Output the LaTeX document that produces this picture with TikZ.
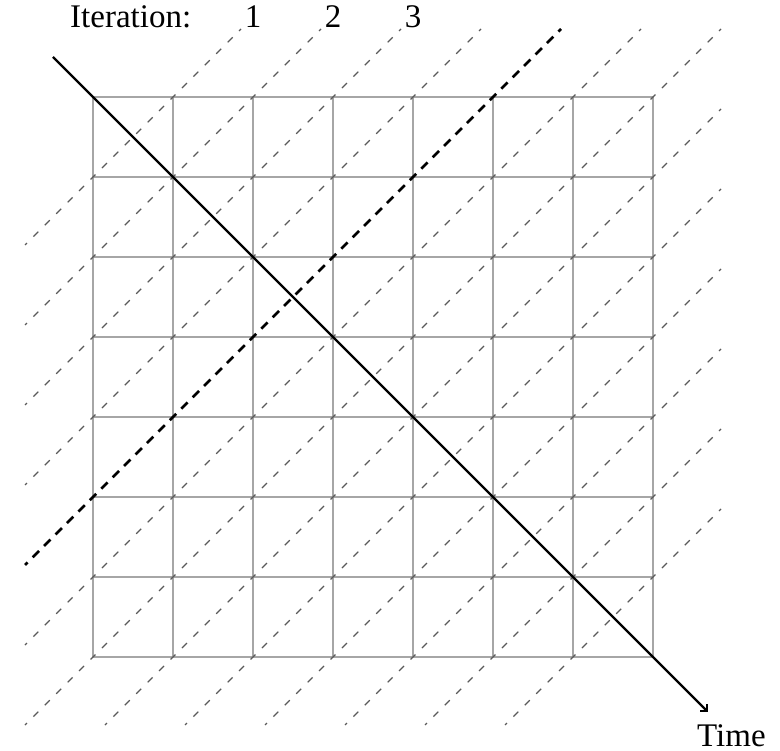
\documentclass[tikz,border=0pt]{standalone}
\usepackage{fontspec}
\setmainfont{Liberation Serif}
\usetikzlibrary{arrows.meta}
\begin{document}
\begin{tikzpicture}[x=80pt,y=-80pt,
  gridline/.style={draw=black!35, line width=1.3pt},
  itline/.style={draw=black!65, line width=1.1pt, dash pattern=on 7pt off 9.1624pt, dash phase=4.3pt},
  boldline/.style={draw=black, line width=2.6pt, dash pattern=on 9pt off 7.1624pt, dash phase=5.3pt},
  timeline/.style={draw=black, line width=2.2pt, -{Straight Barb[length=5pt,width=10pt]}},
  lbl/.style={font=\fontsize{33}{40}\selectfont, inner sep=0pt}]
\useasboundingbox (-1.1625,-1.2125) rectangle (8.5875,8.175);
% grid
\foreach \i in {0,...,7} {
  \draw[gridline] (\i,0) -- (\i,7);
  \draw[gridline] (0,\i) -- (7,\i);
}
% iteration lines
\foreach \k in {1,...,13} {
  \pgfmathsetmacro{\su}{max(-0.85,\k-7.85)}
  \pgfmathsetmacro{\sv}{\k-\su}
  \pgfmathsetmacro{\ev}{max(-0.85,\k-7.85)}
  \pgfmathsetmacro{\eu}{\k-\ev}
  \coordinate (s\k) at (\su,\sv);
  \coordinate (e\k) at (\eu,\ev);
  \ifnum\k=5 \else \draw[itline] (s\k) -- (e\k); \fi
}
\draw[boldline] (s5) -- (e5);
% time arrow
\coordinate (tstart) at (-0.5,-0.5);
\coordinate (tend) at (7.69,7.69);
\draw[timeline] (tstart) -- (tend);
% labels
\node[lbl, anchor=base west] (iter) at (-0.2875,-0.8625) {Iteration:};
\node[lbl, anchor=base] (n1) at (2,-0.8625) {1};
\node[lbl, anchor=base] (n2) at (3,-0.8625) {2};
\node[lbl, anchor=base] (n3) at (4,-0.8625) {3};
\node[lbl, anchor=base west] (time) at (7.55,8.115) {Time};
\end{tikzpicture}
\end{document}
